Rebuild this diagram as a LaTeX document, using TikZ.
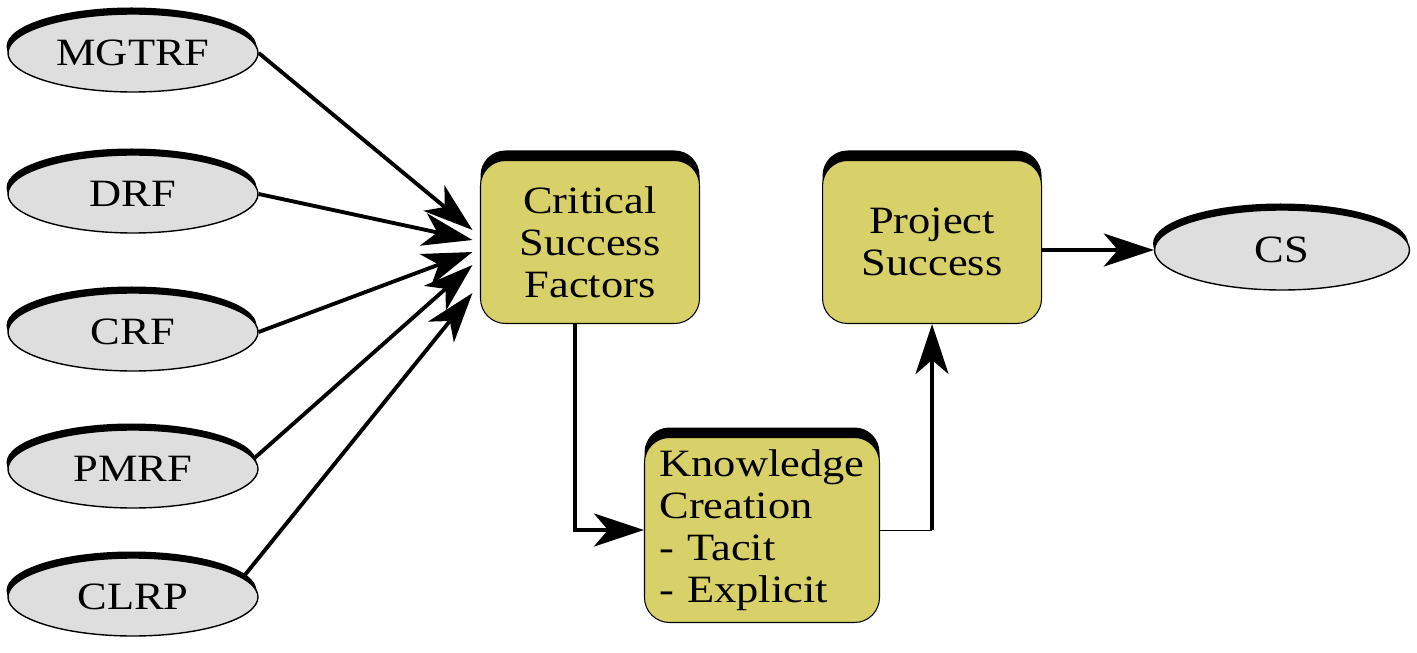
\documentclass[tikz,border=0pt]{standalone}
\usepackage{fontspec}
\setmainfont[FakeStretch=1.15]{Liberation Serif}
\usetikzlibrary{positioning,arrows.meta,shapes.geometric,shadows}
\definecolor{mustard}{HTML}{D8D068}
\definecolor{lightgray14}{HTML}{DEDEDE}

\begin{document}
\begin{tikzpicture}[
    >={Stealth[length=1cm, width=0.66cm, inset=0.28cm]},
    every node/.style={font=\fontsize{22}{24}\selectfont},
    factor/.style={ellipse, draw, thick, fill=lightgray14, minimum width=5cm, minimum height=1.56cm,
        drop shadow={shadow xshift=-0.03cm, shadow yshift=0.13cm, fill=black, opacity=1}},
    stagebox/.style={draw, semithick, rounded corners=0.5cm, fill=mustard, align=center,
        minimum width=4.38cm, minimum height=3.26cm,
        drop shadow={shadow xshift=0cm, shadow yshift=0.2cm, fill=black, opacity=1}},
    link/.style={->, line width=2.2pt},
]
\useasboundingbox (0,0) rectangle (28.34,13.04);

% ---- Left: risk factors ----
\node[factor] (mgtrf) at (2.66,11.98) {MGTRF};
\node[factor] (drf) at (2.66,9.16) {DRF};
\node[factor] (crf) at (2.66,6.4) {CRF};
\node[factor] (pmrf) at (2.66,3.66) {PMRF};
\node[factor] (clrp) at (2.66,1.1) {CLRP};

% ---- Middle: stages ----
\node[stagebox] (csf) at (11.8,8.2) {Critical\\Success\\Factors};
\node[stagebox, right=2.44cm of csf] (ps) {Project\\Success};
\node[stagebox, minimum width=4.7cm, minimum height=3.7cm, text width=4.1cm, inner xsep=0.3cm, align=left] (kc) at (15.24,2.44)
    {Knowledge\\Creation\\- Tacit\\- Explicit};

% ---- Right: outcome ----
\node[factor, minimum width=5.1cm, minimum height=1.6cm] (cs) at (25.64,8.04) {CS};

% factors into CSF
\draw[link] (mgtrf.east) -- ([xshift=-0.15cm, yshift=0.24cm]csf.west);
\draw[link] (drf.east) -- ([xshift=-0.15cm, yshift=0.04cm]csf.west);
\draw[link] (crf.east) -- ([xshift=-0.15cm, yshift=-0.2cm]csf.west);
\draw[link] (pmrf.5) -- ([xshift=-0.15cm, yshift=-0.46cm]csf.west);
\draw[link] (clrp.10) -- ([xshift=-0.15cm, yshift=-1.02cm]csf.west);

% CSF -> KC -> PS -> CS
\draw[link] ([xshift=-0.3cm]csf.south) |- (kc.west);
\coordinate (bend) at (ps.south |- kc.east);
\draw[thin] (kc.east) -- (bend);
\draw[link] (bend) -- (ps.south);
\draw[link] (ps.east |- cs.west) -- (cs.west);

\end{tikzpicture}
\end{document}
